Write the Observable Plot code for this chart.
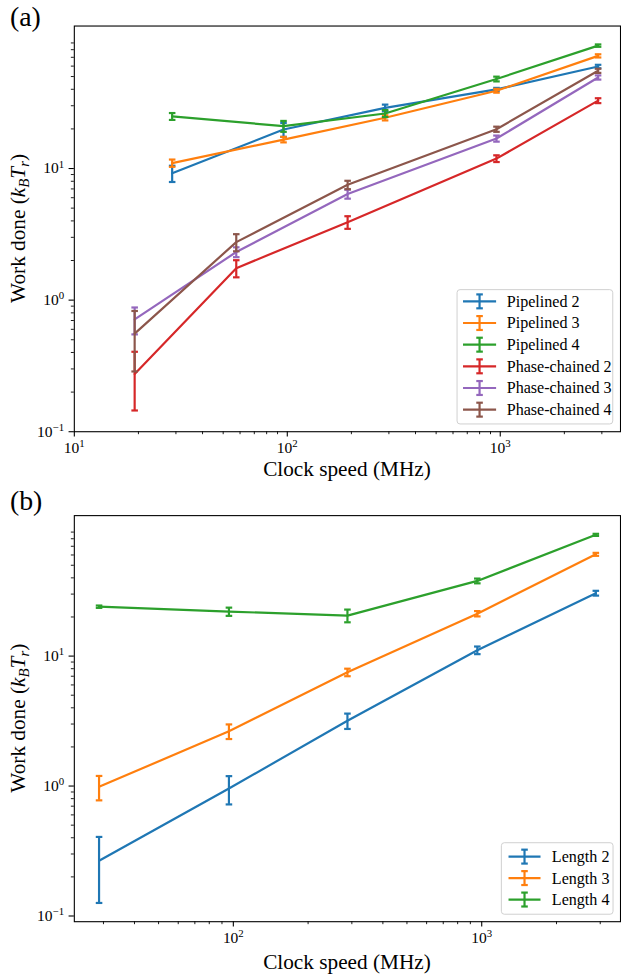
<!DOCTYPE html>
<html><head><meta charset="utf-8">
<script src="https://cdn.jsdelivr.net/npm/d3@7"></script>
<script src="https://cdn.jsdelivr.net/npm/@observablehq/plot@0.6"></script>
<style>
html,body{margin:0;padding:0;background:#fff;overflow:hidden;}
#wrap{position:relative;width:621px;height:977px;overflow:hidden;background:#fff;}
#wrap svg{display:block;position:absolute;left:0;overflow:visible;}
</style></head><body><div id="wrap"></div>
<script>
// ---------- data ----------
const colors = ["#1f77b4", "#ff7f0e", "#2ca02c", "#d62728", "#9467bd", "#8c564b"];

// panel (a)
const clockPipelined = [28.8, 96, 288, 960, 2880];
const clockPhaseChained = [19.2, 57.6, 192, 960, 2880];
const namesA = ["Pipelined 2", "Pipelined 3", "Pipelined 4", "Phase-chained 2", "Phase-chained 3", "Phase-chained 4"];
const pipelined2 = [9.2, 19.8, 28.9, 39.9, 59.6];
const pipelined2Err = [1.3, 2.4, 1.7, 1.1, 1.8];
const pipelined3 = [11.0, 16.6, 24.3, 39.0, 71.8];
const pipelined3Err = [0.7, 0.8, 1.1, 1.3, 2.0];
const pipelined4 = [24.9, 21.0, 26.2, 47.9, 85.9];
const pipelined4Err = [1.5, 2.0, 1.6, 2.0, 1.8];
const phaseChained2 = [0.275, 1.75, 3.91, 11.9, 32.8];
const phaseChained2Err = [0.13, 0.26, 0.43, 0.7, 1.4];
const phaseChained3 = [0.714, 2.32, 6.40, 16.9, 49.2];
const phaseChained3Err = [0.165, 0.2, 0.5, 0.9, 1.8];
const phaseChained4 = [0.557, 2.76, 7.52, 19.9, 55.3];
const phaseChained4Err = [0.27, 0.41, 0.55, 0.9, 2.0];

// panel (b)
const clockLength = [28.8, 96, 288, 960, 2880];
const namesB = ["Length 2", "Length 3", "Length 4"];
const length2 = [0.266, 0.957, 3.18, 11.1, 30.5];
const length2Err = [0.14, 0.235, 0.43, 0.75, 1.3];
const length3 = [0.986, 2.64, 7.50, 21.2, 60.7];
const length3Err = [0.21, 0.34, 0.5, 1.0, 1.6];
const length4 = [24.0, 22.0, 20.5, 37.9, 85.7];
const length4Err = [0.5, 1.6, 2.3, 1.6, 1.6];

// ticks
const yMajor = [0.1, 1, 10];
const yMinor = [0.2, 0.3, 0.4, 0.5, 0.6, 0.7, 0.8, 0.9, 2, 3, 4, 5, 6, 7, 8, 9, 20, 30, 40, 50, 60, 70, 80, 90];
const xMajorA = [10, 100, 1000];
const xMinorA = [20, 30, 40, 50, 60, 70, 80, 90, 200, 300, 400, 500, 600, 700, 800, 900, 2000, 3000];
const xMajorB = [100, 1000];
const xMinorB = [30, 40, 50, 60, 70, 80, 90, 200, 300, 400, 500, 600, 700, 800, 900, 2000, 3000];

// ---------- helpers ----------
const FONT = "'Liberation Serif', 'DejaVu Serif', serif";
const LW = 2.2;
const cap = {draw(ctx, size) { const w = Math.sqrt(size / Math.PI); ctx.moveTo(-w, 0); ctx.lineTo(w, 0); }};
const pow10 = d => "10^" + String(Math.round(Math.log10(d))).replace("-", "\u2212");

function rows(xs, ys, es) {
  return xs.map((x, i) => ({x, y: ys[i], lo: ys[i] - es[i], hi: ys[i] + es[i]}));
}
function seriesMarks(data, color) {
  return [
    Plot.line(data, {x: "x", y: "y", stroke: color, strokeWidth: LW}),
    Plot.ruleX(data, {x: "x", y1: "lo", y2: "hi", stroke: color, strokeWidth: LW}),
    Plot.dot(data, {x: "x", y: "lo", symbol: cap, r: 3.3, stroke: color, strokeWidth: LW, fill: "none"}),
    Plot.dot(data, {x: "x", y: "hi", symbol: cap, r: 3.3, stroke: color, strokeWidth: LW, fill: "none"})
  ];
}
function axes(xMaj, xMin, yMaj, yMin) {
  return [
    Plot.axisX(xMin, {tickSize: 3, tickFormat: () => "", label: null, strokeWidth: 0.9}),
    Plot.axisX(xMaj, {tickSize: 5.3, tickPadding: 5, tickFormat: pow10, label: null, strokeWidth: 1.1}),
    Plot.axisY(yMin, {tickSize: 3, tickFormat: () => "", label: null, strokeWidth: 0.9}),
    Plot.axisY(yMaj, {tickSize: 5.3, tickPadding: 5, tickFormat: pow10, label: null, strokeWidth: 1.1}),
    Plot.frame({stroke: "#000", strokeWidth: 1.1})
  ];
}
function superscripts(svg) {
  svg.querySelectorAll("text").forEach(t => {
    const m = t.textContent.match(/^10\^(.+)$/);
    if (!m) return;
    while (t.firstChild) t.removeChild(t.firstChild);
    const ns = "http://www.w3.org/2000/svg";
    const a = document.createElementNS(ns, "tspan"); a.textContent = "10"; t.appendChild(a);
    const b = document.createElementNS(ns, "tspan"); b.textContent = m[1];
    b.setAttribute("dy", "-0.55em"); b.setAttribute("font-size", "0.7em"); t.appendChild(b);
  });
}
function ylabel(svg, cx, cy) {
  const t = d3.select(svg).append("text")
    .attr("transform", `translate(${cx},${cy}) rotate(-90)`)
    .attr("text-anchor", "middle").attr("font-size", 21.4).attr("font-family", FONT).attr("fill", "#000");
  t.append("tspan").text("Work done (");
  t.append("tspan").attr("font-style", "italic").text("k");
  t.append("tspan").attr("font-style", "italic").attr("font-size", 15).attr("dy", 4.5).text("B");
  t.append("tspan").attr("font-style", "italic").attr("dy", -4.5).text("T");
  t.append("tspan").attr("font-style", "italic").attr("font-size", 15).attr("dy", 4.5).text("r");
  t.append("tspan").attr("dy", -4.5).text(")");
}
function xlabel(svg, cx, y) {
  d3.select(svg).append("text").attr("x", cx).attr("y", y).attr("text-anchor", "middle")
    .attr("font-size", 21.4).attr("font-family", FONT).attr("fill", "#000").text("Clock speed (MHz)");
}
function panelLabel(svg, x, y, s) {
  d3.select(svg).append("text").attr("x", x).attr("y", y).attr("font-size", 28).attr("text-anchor", "start")
    .attr("font-family", FONT).attr("fill", "#000").text(s);
}
function legend(svg, box, items, sw0, sw1, tx) {
  const g = d3.select(svg).append("g").attr("text-anchor", "start");
  g.append("rect").attr("x", box[0]).attr("y", box[1]).attr("width", box[2] - box[0]).attr("height", box[3] - box[1])
    .attr("rx", 3).attr("fill", "#fff").attr("fill-opacity", 0.8).attr("stroke", "#d0d0d0").attr("stroke-width", 1);
  items.forEach(it => {
    const cx = (sw0 + sw1) / 2;
    g.append("line").attr("x1", sw0).attr("x2", sw1).attr("y1", it.cy).attr("y2", it.cy).attr("stroke", it.color).attr("stroke-width", LW);
    g.append("line").attr("x1", cx).attr("x2", cx).attr("y1", it.cy - 7).attr("y2", it.cy + 7).attr("stroke", it.color).attr("stroke-width", LW);
    g.append("line").attr("x1", cx - 3.3).attr("x2", cx + 3.3).attr("y1", it.cy - 7).attr("y2", it.cy - 7).attr("stroke", it.color).attr("stroke-width", LW);
    g.append("line").attr("x1", cx - 3.3).attr("x2", cx + 3.3).attr("y1", it.cy + 7).attr("y2", it.cy + 7).attr("stroke", it.color).attr("stroke-width", LW);
    g.append("text").attr("x", tx).attr("y", it.cy).attr("dy", "0.34em").attr("font-size", 16.2)
      .attr("text-anchor", "start").attr("font-family", FONT).attr("fill", "#000").text(it.name);
  });
}

// ---------- panel (a) ----------
const seriesA = [
  rows(clockPipelined, pipelined2, pipelined2Err),
  rows(clockPipelined, pipelined3, pipelined3Err),
  rows(clockPipelined, pipelined4, pipelined4Err),
  rows(clockPhaseChained, phaseChained2, phaseChained2Err),
  rows(clockPhaseChained, phaseChained3, phaseChained3Err),
  rows(clockPhaseChained, phaseChained4, phaseChained4Err)
];
const plotA = Plot.plot({
  width: 625, height: 488,
  marginLeft: 74.3, marginRight: 1, marginTop: 25.7, marginBottom: 54,
  x: {type: "log", domain: [10, 3670]},
  y: {type: "log", domain: [0.1, 121]},
  style: {fontFamily: FONT, fontSize: "15.6px", color: "#000", background: "transparent"},
  marks: [
    ...axes(xMajorA, xMinorA, yMajor, yMinor),
    ...seriesA.flatMap((d, i) => seriesMarks(d, colors[i]))
  ]
});
superscripts(plotA);
ylabel(plotA, 25, 229.9);
xlabel(plotA, 349.2, 479);
panelLabel(plotA, 10, 26, "(a)");
legend(plotA, [460, 291.5, 616.7, 426.7],
  namesA.map((n, i) => ({name: n, color: colors[i], cy: 303.3 + i * 21.8})), 466, 499.3, 510);
plotA.style.top = "0px";

// ---------- panel (b) ----------
const seriesB = [
  rows(clockLength, length2, length2Err),
  rows(clockLength, length3, length3Err),
  rows(clockLength, length4, length4Err)
];
const plotB = Plot.plot({
  width: 625, height: 489,
  marginLeft: 74.3, marginRight: 1, marginTop: 27.3, marginBottom: 53,
  x: {type: "log", domain: [22.9, 3620]},
  y: {type: "log", domain: [0.0904, 120.5]},
  style: {fontFamily: FONT, fontSize: "15.6px", color: "#000", background: "transparent"},
  marks: [
    ...axes(xMajorB, xMinorB, yMajor, yMinor),
    ...seriesB.flatMap((d, i) => seriesMarks(d, colors[i]))
  ]
});
superscripts(plotB);
ylabel(plotB, 25, 231.7);
xlabel(plotB, 349.2, 484);
panelLabel(plotB, 10, 22, "(b)");
legend(plotB, [504.6, 357, 617, 429],
  namesB.map((n, i) => ({name: n, color: colors[i], cy: 371 + i * 21.6})), 511.8, 544, 555.4);
plotB.style.top = "488px";

const wrap = document.getElementById("wrap");
wrap.appendChild(plotA);
wrap.appendChild(plotB);
</script></body></html>
